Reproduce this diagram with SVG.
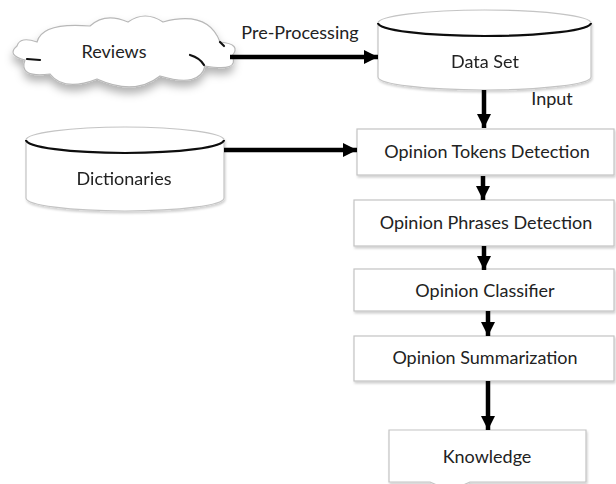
<svg xmlns="http://www.w3.org/2000/svg" width="616" height="484" viewBox="0 0 616 484">
  <style>
    .lbl { font-family: Lato, "Open Sans", "Liberation Sans", sans-serif; font-size: 18px; fill: #222; text-anchor: middle; }
    .box { fill: #fff; stroke: #c4c4c4; stroke-width: 1.2; filter: url(#soft); }
    .cyl { fill: #fff; stroke: #c4c4c4; stroke-width: 1.2; }
    .rim { fill: none; stroke: #111; stroke-width: 2.2; }
    .wire { stroke: #000; stroke-width: 4.5; fill: none; marker-end: url(#head); }
    .mark { fill: none; stroke: #111; stroke-width: 2.2; stroke-linecap: round; }
  </style>
  <defs>
    <marker id="head" markerUnits="userSpaceOnUse" markerWidth="16" markerHeight="16" viewBox="0 0 16 16" refX="15" refY="8" orient="auto">
      <path d="M1,1 L15,8 L1,15 Z" fill="#000"/>
    </marker>
    <filter id="soft" x="-10%" y="-10%" width="120%" height="140%">
      <feDropShadow dx="1" dy="2" stdDeviation="1.2" flood-color="#000" flood-opacity="0.18"/>
    </filter>
    <filter id="cloudShadow" x="-20%" y="-20%" width="140%" height="160%">
      <feDropShadow dx="0" dy="6" stdDeviation="4" flood-color="#000" flood-opacity="0.3"/>
    </filter>
  </defs>

  <rect width="616" height="484" fill="#fff"/>

  <!-- Reviews (cloud) -->
  <g id="reviews">
    <path d="M37,42 Q42,22 90,26 Q105,12 128,22 Q145,10 163,22 Q208,10 220,42 Q242,44 232,56 Q240,72 205,66 Q200,88 160,76 Q135,96 97,79 Q64,92 50,74 Q18,78 25,60 Q6,55 17,46 Q20,36 37,42 Z" fill="#fff" stroke="#b8b8b8" stroke-width="1.2" filter="url(#cloudShadow)"/>
    <path class="mark" d="M27,59 L40,60"/>
    <path class="mark" d="M190,55 Q200,58 204,65"/>
    <path class="mark" d="M220,42 L224,46"/>
    <text class="lbl" x="114" y="58">Reviews</text>
  </g>

  <!-- Data Set (cylinder) -->
  <g id="dataset" filter="url(#soft)">
    <path class="cyl" d="M378,23 V77 A106.5,13 0 0 0 591,77 V23"/>
    <ellipse class="cyl" cx="484.5" cy="23" rx="106.5" ry="13"/>
    <path class="rim" d="M378,23 A106.5,13 0 0 0 591,23"/>
    <text class="lbl" x="485" y="68">Data Set</text>
  </g>

  <!-- Dictionaries (cylinder) -->
  <g id="dictionaries" filter="url(#soft)">
    <path class="cyl" d="M26,140 V198 A99,13 0 0 0 224,198 V140"/>
    <ellipse class="cyl" cx="125" cy="140" rx="99" ry="13"/>
    <path class="rim" d="M26,140 A99,13 0 0 0 224,140"/>
    <text class="lbl" x="124" y="185">Dictionaries</text>
  </g>

  <!-- Processing stages -->
  <g id="tokens">
    <rect class="box" x="357" y="129" width="257" height="46"/>
    <text class="lbl" x="487" y="158">Opinion Tokens Detection</text>
  </g>
  <g id="phrases">
    <rect class="box" x="354" y="200" width="260" height="46"/>
    <text class="lbl" x="486" y="229">Opinion Phrases Detection</text>
  </g>
  <g id="classifier">
    <rect class="box" x="354" y="269" width="260" height="42"/>
    <text class="lbl" x="485" y="297">Opinion Classifier</text>
  </g>
  <g id="summarization">
    <rect class="box" x="354" y="336" width="260" height="45"/>
    <text class="lbl" x="485" y="364">Opinion Summarization</text>
  </g>
  <g id="knowledge">
    <path class="box" d="M389,430 H586 V482 H470 Q450,492 430,482 H389 Z"/>
    <text class="lbl" x="487" y="463">Knowledge</text>
  </g>

  <!-- Connectors -->
  <g id="connectors">
    <path class="wire" d="M230,57 H378"/>
    <text class="lbl" x="300" y="39">Pre-Processing</text>
    <path class="wire" d="M484,90 V128"/>
    <text class="lbl" x="552" y="105">Input</text>
    <path class="wire" d="M224,150 H357"/>
    <path class="wire" d="M483,176 V200"/>
    <path class="wire" d="M484,246 V270"/>
    <path class="wire" d="M488,311 V336"/>
    <path class="wire" d="M488,381 V430"/>
  </g>
</svg>
